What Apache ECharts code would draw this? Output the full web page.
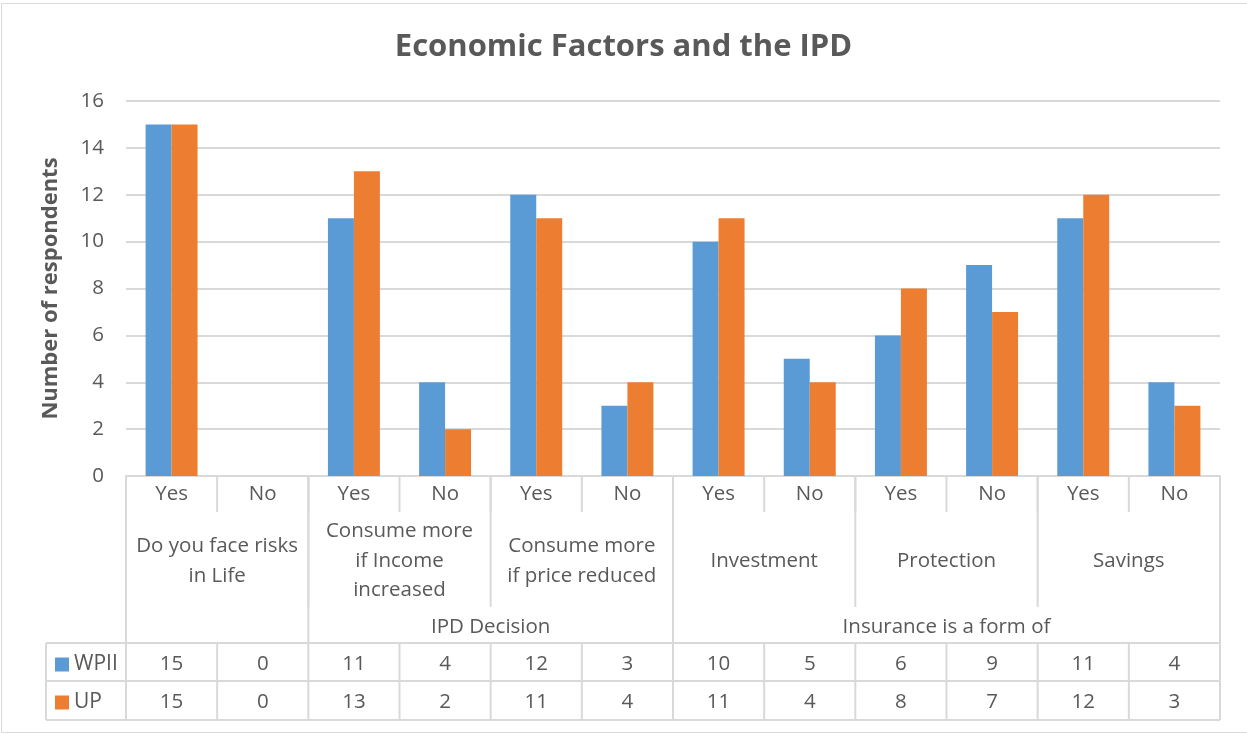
<!DOCTYPE html>
<html>
<head>
<meta charset="utf-8">
<script src="https://cdn.jsdelivr.net/npm/echarts@6/dist/echarts.min.js"></script>
<style>
html,body{margin:0;padding:0;background:#fff;}
#chart{width:1247px;height:734px;}
</style>
</head>
<body>
<div id="chart"></div>
<script>
// ---- data ----
const categories = ['Yes','No','Yes','No','Yes','No','Yes','No','Yes','No','Yes','No'];
const groupLabels = ['Do you face risks\nin Life','Consume more\nif Income\nincreased','Consume more\nif price reduced','Investment','Protection','Savings'];
const topLabels = ['','','','','IPD Decision','','','','','Insurance is a form of','','',''];
const seriesNames = ['WPII','UP'];
const wpii = [15,0,11,4,12,3,10,5,6,9,11,4];
const up = [15,0,13,2,11,4,11,4,8,7,12,3];
const yTicks = {min:0, max:16, interval:2};

const FONT = '"Open Sans", sans-serif';
const TXT = '#595959';
const LINE = '#d9d9d9';
const BLUE = '#5B9BD5';
const ORANGE = '#ED7D31';
const FS = 20.5;

const chart = echarts.init(document.getElementById('chart'), null, {renderer:'canvas'});

function labelAxis(data, margin, extra) {
  return Object.assign({
    type:'category', gridIndex:0, position:'bottom', data:data,
    axisLine:{show:false}, axisTick:{show:false}, splitLine:{show:false},
    axisLabel:{interval:0, margin:margin, verticalAlign:'middle', color:TXT, fontSize:FS, fontFamily:FONT, lineHeight:29.5}
  }, extra || {});
}

const option = {
  backgroundColor:'#fff',
  animation:false,
  textStyle:{fontFamily:FONT},
  title:{
    text:'Economic Factors and the IPD', left:'center', top:32, padding:0,
    textStyle:{fontSize:31, fontWeight:'bold', color:TXT, fontFamily:FONT}
  },
  legend:[
    {data:[seriesNames[0]], left:55, top:654, orient:'vertical', icon:'rect', itemWidth:14, itemHeight:14, itemGap:5, padding:0,
     textStyle:{fontSize:21, color:TXT, fontFamily:FONT}},
    {data:[seriesNames[1]], left:55, top:692, orient:'vertical', icon:'rect', itemWidth:14, itemHeight:14, itemGap:5, padding:0,
     textStyle:{fontSize:21, color:TXT, fontFamily:FONT}}
  ],
  grid:{left:126, right:27, top:101, bottom:258, outerBoundsMode:'none', containLabel:false},
  xAxis:[
    {
      type:'category', gridIndex:0, position:'bottom', data:categories,
      axisLine:{show:true, lineStyle:{color:LINE, width:2}},
      axisTick:{show:false},
      axisLabel:{interval:0, margin:18, verticalAlign:'middle', color:TXT, fontSize:FS, fontFamily:FONT}
    },
    labelAxis(groupLabels, 85),
    labelAxis(topLabels, 151, {boundaryGap:false}),
    labelAxis(wpii.map(String), 188),
    labelAxis(up.map(String), 226)
  ],
  yAxis:{
    type:'value', min:yTicks.min, max:yTicks.max, interval:yTicks.interval,
    name:'Number of respondents', nameLocation:'middle', nameRotate:90, nameGap:64,
    nameTextStyle:{fontSize:22, fontWeight:'bold', color:TXT, fontFamily:FONT},
    axisLine:{show:false}, axisTick:{show:false},
    axisLabel:{color:TXT, fontSize:FS, fontFamily:FONT, margin:22},
    splitLine:{lineStyle:{color:LINE, width:2}}
  },
  series:[
    {name:seriesNames[0], type:'bar', data:wpii, itemStyle:{color:BLUE}, barGap:'0%', barCategoryGap:'43%'},
    {name:seriesNames[1], type:'bar', data:up, itemStyle:{color:ORANGE}, barGap:'0%', barCategoryGap:'43%'}
  ]
};
chart.setOption(option);

// ---- table / frame lines, positioned from the axis scales ----
const c0 = chart.convertToPixel({xAxisIndex:0}, 0);
const c1 = chart.convertToPixel({xAxisIndex:0}, 1);
const bw = c1 - c0;
const bx = i => c0 - bw/2 + i*bw;
const y0 = chart.convertToPixel({yAxisIndex:0}, 0);
const rowTop = y0 + 167, rowMid = y0 + 205, rowBot = y0 + 244;
const tableLeft = 46;
const els = [];
function ln(x1,y1,x2,y2){
  els.push({type:'line', shape:{x1:x1,y1:y1,x2:x2,y2:y2}, style:{stroke:LINE, lineWidth:2}, silent:true});
}
for (let i=0;i<=categories.length;i++){
  ln(bx(i), y0, bx(i), y0+36);       // Yes/No row
  ln(bx(i), rowTop, bx(i), rowBot);   // data table rows
  if (i%2===0) ln(bx(i), y0, bx(i), y0+131);   // group level
}
[0,2,6,12].forEach(i => ln(bx(i), y0, bx(i), rowTop)); // top level
ln(tableLeft, rowTop, tableLeft, rowBot);
[rowTop, rowMid, rowBot].forEach(y => ln(tableLeft, y, bx(12), y));
// outer chart frame
els.push({type:'rect', shape:{x:1.5, y:3.5, width:1260, height:729}, style:{fill:null, stroke:LINE, lineWidth:1}, silent:true, z:-1});
chart.setOption({graphic:els});
</script>
</body>
</html>
